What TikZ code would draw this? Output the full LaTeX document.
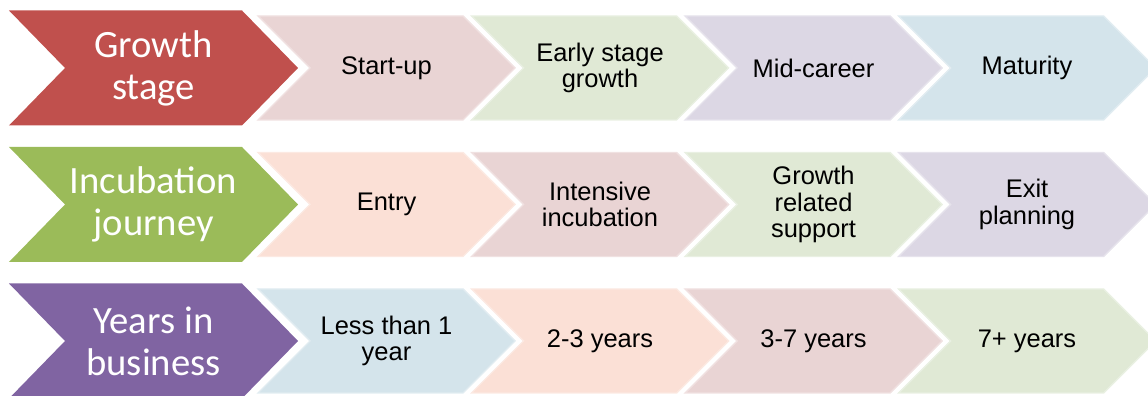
\documentclass[tikz,border=0pt]{standalone}
\usepackage{fontspec}
\setmainfont{Liberation Sans}
\newfontfamily\headfont{Carlito}
\usetikzlibrary{positioning}
\definecolor{dred}{HTML}{C0504D}
\definecolor{dgreen}{HTML}{9BBB59}
\definecolor{dpurple}{HTML}{8064A2}
\definecolor{lred}{HTML}{E9D4D4}
\definecolor{lgreen}{HTML}{E0E9D5}
\definecolor{lpurple}{HTML}{DCD7E4}
\definecolor{lblue}{HTML}{D4E4EB}
\definecolor{lorange}{HTML}{FBE0D6}
\tikzset{
  head/.style={fill=#1},
  stage/.style={fill=#1, draw=#1!70!white, line width=0.8pt, line join=miter},
  headtxt/.style={font=\headfont\fontsize{22}{24}\selectfont, text=white}
}

\begin{document}
\begin{tikzpicture}[every node/.style={align=center, font=\fontsize{14.5}{15}\selectfont}]
  \useasboundingbox (0,0) rectangle (22.96,7.92);
  \clip (0,0) rectangle (22.96,7.92);
  % growth stage
  \begin{scope}[yshift=6.56cm]
    \fill[head=dred] (0.18,1.15) -- (4.84,1.15) -- (5.96,0) -- (4.84,-1.15) -- (0.18,-1.15) -- (1.30,0) -- cycle;
    \node[headtxt] (growth) at (3.07,0) {Growth\\stage};
    \foreach \k/\c/\t in {0/lred/Start-up, 1/lgreen/{Early stage\\growth}, 2/lpurple/Mid-career, 3/lblue/Maturity} {
      \path[stage=\c] (5.16+\k*4.27,1.04) -- ++(4.10,0) -- ++(1.04,-1.04) -- ++(-1.04,-1.04) -- ++(-4.10,0) -- ++(1.04,1.04) -- cycle;
      \node (growth-\k) at (7.73+\k*4.27,0) {\t};
    }
  \end{scope}
  % incubation journey
  \begin{scope}[yshift=3.83cm]
    \fill[head=dgreen] (0.18,1.15) -- (4.84,1.15) -- (5.96,0) -- (4.84,-1.15) -- (0.18,-1.15) -- (1.30,0) -- cycle;
    \node[headtxt] (journey) at (3.07,0) {Incubation\\journey};
    \foreach \k/\c/\t in {0/lorange/Entry, 1/lred/{Intensive\\incubation}, 2/lgreen/{Growth\\related\\support}, 3/lpurple/{Exit\\planning}} {
      \path[stage=\c] (5.16+\k*4.27,1.04) -- ++(4.10,0) -- ++(1.04,-1.04) -- ++(-1.04,-1.04) -- ++(-4.10,0) -- ++(1.04,1.04) -- cycle;
      \node (journey-\k) at (7.73+\k*4.27,0) {\t};
    }
  \end{scope}
  % years in business
  \begin{scope}[yshift=1.10cm]
    \fill[head=dpurple] (0.18,1.15) -- (4.84,1.15) -- (5.96,0) -- (4.84,-1.15) -- (0.18,-1.15) -- (1.30,0) -- cycle;
    \node[headtxt] (years) at (3.07,0) {Years in\\business};
    \foreach \k/\c/\t in {0/lblue/{Less than 1\\year}, 1/lorange/2-3 years, 2/lred/3-7 years, 3/lgreen/7+ years} {
      \path[stage=\c] (5.16+\k*4.27,1.04) -- ++(4.10,0) -- ++(1.04,-1.04) -- ++(-1.04,-1.04) -- ++(-4.10,0) -- ++(1.04,1.04) -- cycle;
      \node (years-\k) at (7.73+\k*4.27,0) {\t};
    }
  \end{scope}
\end{tikzpicture}
\end{document}
